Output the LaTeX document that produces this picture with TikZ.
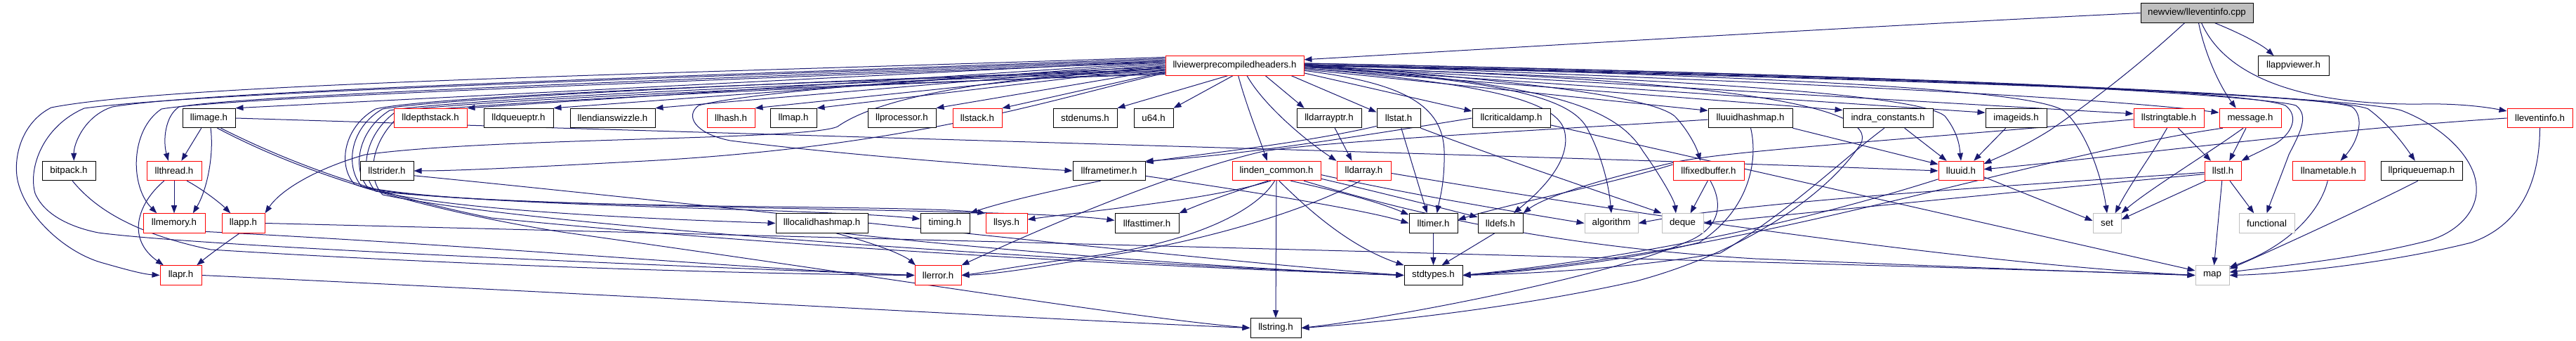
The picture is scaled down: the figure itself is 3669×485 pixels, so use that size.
\documentclass[tikz,border=0pt]{standalone}
\usepackage{fontspec}
\setmainfont{Liberation Sans}
\usetikzlibrary{arrows.meta}
\definecolor{edgec}{RGB}{25,25,112}
\definecolor{sysg}{RGB}{191,191,191}
\pgfdeclarelayer{edges}
\pgfsetlayers{edges,main}
\tikzset{
 nb/.style={draw=black, line width=0.5pt, fill=white, inner sep=0pt, minimum height=13.75pt, font=\fontsize{6.65}{8}\selectfont},
 nr/.style={nb, draw=red},
 ng/.style={nb, draw=sysg},
 ncpp/.style={nb, fill=sysg},
 e/.style={draw=edgec, line width=0.5pt, -{Triangle[length=5.5pt,width=4pt]}},
}
\begin{document}
\begin{tikzpicture}[x=0.5pt,y=-0.5pt]
\useasboundingbox (0,0) rectangle (3669,485);
% row 0/1
\node[ncpp, minimum width=80pt] (cpp) at (3129,18.5) {newview/lleventinfo.cpp};
\node[nr, minimum width=98.5pt] (vph) at (1758.5,93.5) {llviewerprecompiledheaders.h};
\node[nb, minimum width=50.5pt] (appv) at (3266.5,93.5) {llappviewer.h};
% row 2
\node[nb, minimum width=37.5pt] (img) at (297.5,168) {llimage.h};
\node[nr, minimum width=52pt] (dst) at (613,168) {lldepthstack.h};
\node[nb, minimum width=49.5pt] (dqp) at (738.5,168) {lldqueueptr.h};
\node[nb, minimum width=60.5pt] (esw) at (872.5,168) {llendianswizzle.h};
\node[nr, minimum width=34pt] (hsh) at (1041,168) {llhash.h};
\node[nb, minimum width=33pt] (lmap) at (1130,168) {llmap.h};
\node[nb, minimum width=48.5pt] (proc) at (1284.5,168) {llprocessor.h};
\node[nr, minimum width=35pt] (stk) at (1392,168) {llstack.h};
\node[nb, minimum width=45.5pt] (senum) at (1545.5,168) {stdenums.h};
\node[nb, minimum width=28pt] (u64) at (1643,168) {u64.h};
\node[nb, minimum width=46pt] (dap) at (1893,168) {lldarrayptr.h};
\node[nb, minimum width=31pt] (stat) at (1992,168) {llstat.h};
\node[nb, minimum width=55.5pt] (cdmp) at (2152.5,168) {llcriticaldamp.h};
\node[nb, minimum width=60pt] (uhm) at (2493,168) {lluuidhashmap.h};
\node[nb, minimum width=64pt] (indra) at (2689,168) {indra\_constants.h};
\node[nb, minimum width=43.5pt] (imgid) at (2871.5,168) {imageids.h};
\node[nr, minimum width=50pt] (strt) at (3089,168) {llstringtable.h};
\node[nr, minimum width=44pt] (msg) at (3205,168) {message.h};
\node[nr, minimum width=46.5pt] (evh) at (3617.5,168) {lleventinfo.h};
% row 3
\node[nb, minimum width=38pt] (bitp) at (98,243) {bitpack.h};
\node[nr, minimum width=39pt] (thr) at (248,243) {llthread.h};
\node[nb, minimum width=38pt] (strd) at (551,243) {llstrider.h};
\node[nb, minimum width=51.5pt] (frt) at (1579.5,243) {llframetimer.h};
\node[nr, minimum width=63pt] (lc) at (1818,243) {linden\_common.h};
\node[nr, minimum width=38.5pt] (darr) at (1942.5,243) {lldarray.h};
\node[nr, minimum width=50.5pt] (fxb) at (2433.5,243) {llfixedbuffer.h};
\node[nr, minimum width=32pt] (uuid) at (2793,243) {lluuid.h};
\node[nr, minimum width=26pt] (stl) at (3166,243) {llstl.h};
\node[nr, minimum width=51.5pt] (nmt) at (3316.5,243) {llnametable.h};
\node[nb, minimum width=58pt] (pqm) at (3449,243) {llpriqueuemap.h};
% row 4
\node[nr, minimum width=44pt] (mem) at (248,317.5) {llmemory.h};
\node[nr, minimum width=30.5pt] (app) at (346.5,317.5) {llapp.h};
\node[nb, minimum width=65.5pt] (lih) at (1170.5,317.5) {lllocalidhashmap.h};
\node[nb, minimum width=35pt] (tim) at (1346,317.5) {timing.h};
\node[nr, minimum width=29.5pt] (sys) at (1433.5,317.5) {llsys.h};
\node[nb, minimum width=45.5pt] (ftm) at (1633.5,317.5) {llfasttimer.h};
\node[nb, minimum width=34.5pt] (tmr) at (2041.5,317.5) {lltimer.h};
\node[nb, minimum width=32pt] (defs) at (2137,317.5) {lldefs.h};
\node[ng, minimum width=38pt] (algo) at (2295,317.5) {algorithm};
\node[ng, minimum width=29.5pt] (deq) at (2396.5,317.5) {deque};
\node[ng, minimum width=20pt] (set) at (3001,317.5) {set};
\node[ng, minimum width=39.5pt] (func) at (3228.5,317.5) {functional};
% row 5
\node[nr, minimum width=29.5pt] (apr) at (257.5,391.5) {llapr.h};
\node[nr, minimum width=33pt] (err) at (1336,391.5) {llerror.h};
\node[nb, minimum width=41.5pt] (sty) at (2041.5,391.5) {stdtypes.h};
\node[ng, minimum width=24pt] (map) at (3151,391.5) {map};
% row 6
\node[nb, minimum width=36pt] (str) at (1817,466.5) {llstring.h};

\begin{pgfonlayer}{edges}
% from the .cpp
\draw[e] (cpp.west) .. controls (2700,35) and (2200,65) .. (vph.5);
\draw[e] (cpp.-29) .. controls (3185,45) and (3220,62) .. (appv.153);
\draw[e] (cpp.-80) .. controls (3140,75) and (3160,120) .. (msg.145);
\draw[e] (cpp.-65) .. controls (3170,110) and (3280,150) .. (3450,148) .. controls (3500,147) and (3540,152) .. (evh.168);
\draw[e] (cpp.-141) .. controls (3060,80) and (3000,130) .. (2920,185) .. controls (2880,210) and (2850,222) .. (uuid.17);
% vph to row 2 on the left
\draw[e] (vph.176) -- (img.north east);
\draw[e] (vph.177) -- (dst.north east);
\draw[e] (vph.178) -- (dqp.north east);
\draw[e] (vph.179) -- (esw.north east);
\draw[e] (vph.180) -- (hsh.north east);
\draw[e] (vph.181) -- (lmap.north east);
\draw[e] (vph.183) -- (proc.north east);
\draw[e] (vph.185) -- (stk.north east);
\draw[e] (vph.-125) -- (senum.north east);
\draw[e] (vph.-100) -- (u64.north east);
% vph loops on the far left
\draw[e] (vph.174) .. controls (1000,108) and (300,128) .. (160,152) .. controls (120,165) and (105,205) .. (bitp.63);
\draw[e] (vph.173) .. controls (1000,104) and (250,118) .. (73,153) .. controls (35,172) and (20,215) .. (24,250) .. controls (30,300) and (90,360) .. (150,375) .. controls (185,385) and (205,390) .. (apr.west);
\draw[e] (vph.175) .. controls (1000,110) and (300,130) .. (120,154) .. controls (60,180) and (40,240) .. (50,275) .. controls (65,310) and (110,325) .. (140,331) .. controls (300,352) and (1000,380) .. (err.west);
\draw[e] (vph.176) .. controls (1000,112) and (350,135) .. (255,152) .. controls (235,165) and (232,200) .. (thr.120);
\draw[e] (vph.177) .. controls (1000,115) and (330,138) .. (230,155) .. controls (185,185) and (185,265) .. (mem.150);
\draw[e] (vph.182) .. controls (1400,110) and (1250,140) .. (1193,180) .. controls (1150,200) and (700,195) .. (520,220) .. controls (450,240) and (400,270) .. (app.north east);
\draw[e] (vph.186) .. controls (1500,140) and (1300,210) .. (900,230) .. controls (750,238) and (650,243) .. (strd.east);
\draw[e] (vph.181) .. controls (1300,110) and (1050,135) .. (995,150) .. controls (975,165) and (990,190) .. (1040,200) .. controls (1200,220) and (1400,235) .. (frt.west);
\draw[e] (vph.184) .. controls (1200,115) and (620,135) .. (535,155) .. controls (490,180) and (480,235) .. (505,262) .. controls (600,300) and (950,312) .. (lih.west);
\draw[e] (vph.183) .. controls (1200,113) and (640,138) .. (545,155) .. controls (500,180) and (490,235) .. (515,265) .. controls (650,295) and (1150,295) .. (tim.170);
\draw[e] (vph.185) .. controls (1200,117) and (660,140) .. (555,157) .. controls (510,185) and (500,240) .. (525,268) .. controls (700,300) and (1300,290) .. (sys.north west);
\draw[e] (vph.187) .. controls (1200,120) and (680,142) .. (565,158) .. controls (520,190) and (510,245) .. (535,272) .. controls (800,300) and (1450,295) .. (ftm.175);
\draw[e] (vph.186.5) .. controls (1200,122) and (700,145) .. (575,160) .. controls (530,195) and (520,250) .. (545,277) .. controls (800,330) and (1700,380) .. (sty.west);
% vph downwards and to the right
\draw[e] (vph.-70) .. controls (1775,150) and (1795,200) .. (lc.133);
\draw[e] (vph.-18) -- (dap.158);
\draw[e] (vph.-39) .. controls (1800,150) and (1860,200) .. (darr.160);
\draw[e] (vph.-10) -- (stat.165);
\draw[e] (vph.-6) -- (cdmp.170);
\draw[e] (vph.-4) .. controls (2000,118) and (2055,150) .. (2057,215) .. controls (2058,260) and (2050,285) .. (tmr.70);
\draw[e] (vph.-2) .. controls (2100,118) and (2215,140) .. (2228,185) .. controls (2240,230) and (2190,275) .. (defs.37);
\draw[e] (vph.-1) .. controls (2150,115) and (2240,140) .. (2262,185) .. controls (2285,230) and (2292,270) .. (algo.north);
\draw[e] (vph.0) .. controls (2200,118) and (2300,150) .. (2340,215) .. controls (2365,250) and (2385,285) .. (deq.124);
\draw[e] (vph.1) .. controls (2250,120) and (2360,145) .. (2385,165) .. controls (2400,180) and (2415,205) .. (fxb.129);
\draw[e] (vph.-3) -- (uhm.170);
\draw[e] (vph.-2) -- (indra.170);
\draw[e] (vph.-1) -- (imgid.170);
\draw[e] (vph.-1.5) .. controls (2500,115) and (2740,140) .. (2770,165) .. controls (2790,190) and (2791,210) .. (uuid.north);
\draw[e] (vph.1.5) .. controls (2600,110) and (2900,130) .. (2940,158) .. controls (2975,190) and (2995,260) .. (set.north);
\draw[e] (vph.0) -- (strt.173);
\draw[e] (vph.1) .. controls (2600,118) and (3000,140) .. (msg.170);
\draw[e] (vph.2.5) .. controls (2800,110) and (3200,130) .. (3255,150) .. controls (3275,165) and (3265,190) .. (3240,205) .. controls (3220,215) and (3205,222) .. (stl.north east);
\draw[e] (vph.2) .. controls (2900,110) and (3240,140) .. (3270,150) .. controls (3290,165) and (3275,190) .. (3260,220) .. controls (3245,260) and (3235,285) .. (func.north);
\draw[e] (vph.1.5) .. controls (3000,115) and (3320,140) .. (3350,152) .. controls (3368,165) and (3360,200) .. (nmt.40);
\draw[e] (vph.1) .. controls (3000,118) and (3340,140) .. (3373,155) .. controls (3400,175) and (3420,200) .. (pqm.123);
\draw[e] (vph.0.5) .. controls (3100,120) and (3380,145) .. (3420,157) .. controls (3480,180) and (3525,225) .. (3527,265) .. controls (3530,300) and (3500,330) .. (3460,342) .. controls (3350,370) and (3230,380) .. (map.10);
\draw[e] (vph.-1) .. controls (2450,112) and (2680,150) .. (2650,205) .. controls (2600,280) and (2480,360) .. (2330,400) .. controls (2150,440) and (1950,460) .. (str.east);
% llimage
\draw[e] (img.-127) -- (thr.54);
\draw[e] (img.-80) .. controls (305,220) and (295,270) .. (mem.28);
\draw[e] (img.east) .. controls (1200,195) and (2300,225) .. (uuid.west);
\draw[e] (img.-40) .. controls (380,215) and (500,270) .. (700,310) .. controls (1200,360) and (1800,385) .. (sty.west);
\draw[e] (img.-50) .. controls (400,230) and (550,290) .. (800,330) .. controls (1300,400) and (1600,450) .. (str.west);
% llthread, llapp, llmemory, llapr, bitpack, llstrider
\draw[e] (thr.south) -- (mem.north);
\draw[e] (thr.-38) .. controls (290,270) and (315,290) .. (app.142);
\draw[e] (thr.-135) .. controls (195,290) and (180,340) .. (apr.150);
\draw[e] (app.-110) .. controls (315,350) and (295,365) .. (apr.32);
\draw[e] (app.east) .. controls (1500,345) and (2800,380) .. (map.west);
\draw[e] (mem.-15) .. controls (700,350) and (1100,385) .. (err.west);
\draw[e] (apr.east) .. controls (900,420) and (1500,455) .. (str.west);
\draw[e] (bitp.-70) .. controls (130,290) and (180,330) .. (300,355) .. controls (700,380) and (1100,390) .. (err.west);
\draw[e] (strd.-10) .. controls (1000,290) and (1700,370) .. (sty.west);
% lllocalidhashmap, llframetimer
\draw[e] (lih.-35) .. controls (1260,350) and (1290,365) .. (err.156);
\draw[e] (lih.-25) .. controls (1400,355) and (1800,385) .. (sty.west);
\draw[e] (frt.-130) .. controls (1480,275) and (1420,290) .. (tim.north east);
\draw[e] (frt.-8) .. controls (1800,275) and (1950,300) .. (tmr.west);
% linden_common
\draw[e] (lc.south) -- (str.north);
\draw[e] (lc.-75) .. controls (1860,295) and (1920,350) .. (sty.north west);
\draw[e] (lc.-35) .. controls (1920,275) and (1970,290) .. (tmr.161);
\draw[e] (lc.-10) .. controls (1950,270) and (2050,295) .. (defs.165);
\draw[e] (lc.-120) .. controls (1720,285) and (1550,300) .. (sys.10);
\draw[e] (lc.-130) .. controls (1750,275) and (1710,290) .. (ftm.north east);
\draw[e] (lc.-100) .. controls (1790,300) and (1700,345) .. (1550,365) .. controls (1450,378) and (1400,388) .. (err.east);
\draw[e] (lc.-5) .. controls (2000,275) and (2150,300) .. (algo.west);
\draw[e] (lc.-20) .. controls (2000,300) and (2200,350) .. (2500,368) .. controls (2800,380) and (3000,388) .. (map.west);
% lldarray, lldarrayptr, llstat, llcriticaldamp
\draw[e] (darr.-110) .. controls (1880,290) and (1750,335) .. (1600,360) .. controls (1480,380) and (1420,390) .. (err.east);
\draw[e] (darr.-5) .. controls (2300,300) and (2800,375) .. (map.west);
\draw[e] (dap.-60) -- (darr.140);
\draw[e] (stat.-75) -- (tmr.122);
\draw[e] (stat.south east) .. controls (2150,230) and (2300,280) .. (deq.north west);
\draw[e] (stat.-160) .. controls (1850,205) and (1700,220) .. (frt.13);
\draw[e] (cdmp.west) .. controls (1900,200) and (1750,222) .. (frt.15);
\draw[e] (cdmp.-10) -- (map.165);
% llfixedbuffer, llstringtable, message
\draw[e] (fxb.-95) -- (deq.52);
\draw[e] (fxb.-80) .. controls (2460,300) and (2440,330) .. (2400,345) .. controls (2300,390) and (2000,450) .. (str.east);
\draw[e] (fxb.170) .. controls (2300,260) and (2150,290) .. (tmr.8);
\draw[e] (strt.182) .. controls (2700,200) and (2450,215) .. (2380,232) .. controls (2280,255) and (2200,280) .. (defs.north east);
\draw[e] (strt.-47) -- (stl.140);
\draw[e] (strt.-100) .. controls (3065,220) and (3035,260) .. (set.51);
\draw[e] (msg.-113) -- (stl.57);
\draw[e] (msg.-125) .. controls (3150,215) and (3060,270) .. (set.north east);
\draw[e] (msg.-160) .. controls (2900,220) and (2500,360) .. (sty.east);
% llstl, llnametable, llpriqueuemap, lleventinfo
\draw[e] (stl.-95) -- (map.80);
\draw[e] (stl.-55) -- (func.142);
\draw[e] (stl.-150) -- (set.15);
\draw[e] (stl.-170) .. controls (2900,270) and (2600,300) .. (deq.east);
\draw[e] (stl.-175) .. controls (2900,262) and (2500,285) .. (algo.east);
\draw[e] (nmt.-95) .. controls (3305,300) and (3260,350) .. (map.25);
\draw[e] (pqm.-110) .. controls (3380,290) and (3250,350) .. (map.20);
\draw[e] (evh.south) .. controls (3617,260) and (3590,320) .. (3520,345) .. controls (3400,375) and (3250,390) .. (map.east);
\draw[e] (evh.west) .. controls (3300,185) and (3000,225) .. (uuid.4);
% lluuidhashmap, indra_constants, imageids, lluuid
\draw[e] (uhm.south east) -- (uuid.164);
\draw[e] (uhm.-88) .. controls (2505,230) and (2490,300) .. (2420,345) .. controls (2300,375) and (2150,388) .. (sty.east);
\draw[e] (uhm.182) .. controls (2200,185) and (1900,200) .. (1800,215) .. controls (1650,250) and (1450,340) .. (err.north east);
\draw[e] (indra.-31) -- (uuid.145);
\draw[e] (indra.-110) .. controls (2620,230) and (2550,300) .. (2450,360) .. controls (2300,385) and (2150,390) .. (sty.east);
\draw[e] (imgid.-136) -- (uuid.38);
\draw[e] (uuid.-15) -- (set.170);
\draw[e] (uuid.-160) .. controls (2650,290) and (2400,360) .. (sty.east);
% lltimer, lldefs
\draw[e] (tmr.south) -- (sty.north);
\draw[e] (defs.-120) -- (sty.50);
\end{pgfonlayer}
\end{tikzpicture}
\end{document}
